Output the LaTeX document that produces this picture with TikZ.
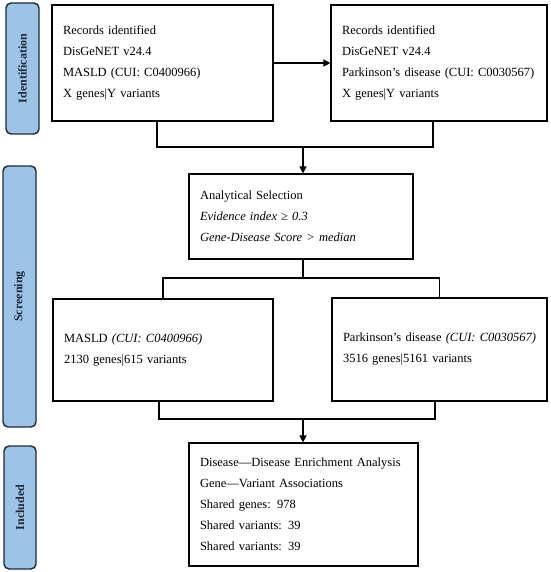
\documentclass[tikz,border=0pt]{standalone}
\usepackage{fontspec}
\setmainfont{Liberation Serif}
\usetikzlibrary{arrows.meta}
\definecolor{sidefill}{RGB}{157,195,230}
\definecolor{sidedraw}{RGB}{30,40,55}
\tikzset{
  box/.style={draw=black, line width=1.1pt, fill=white, align=left, inner sep=0pt,
    font=\fontsize{12.5}{21}\selectfont},
  side/.style={draw=sidedraw, line width=1.4pt, fill=sidefill, rounded corners=5pt, inner sep=0pt},
  sidelabel/.style={rotate=90, font=\fontsize{12}{14}\selectfont\bfseries, text=sidedraw},
  conn/.style={line width=1.1pt},
  arr/.style={line width=1.1pt, -{Triangle[width=7pt,length=7pt]}}
}
\begin{document}
\begin{tikzpicture}[x=1pt,y=-1pt]
\useasboundingbox (0,0) rectangle (550,572);
% side phase labels
\node[side, minimum width=33pt, minimum height=131pt] (sid) at (22.5,68.5) {};
\node[sidelabel] (sidt) at (sid.center) {Identification};
\node[side, minimum width=33pt, minimum height=261pt] (sscr) at (19.5,296.5) {};
\node[sidelabel] (sscrt) at (sscr.center) {Screening};
\node[side, minimum width=32pt, minimum height=123pt] (sinc) at (20,507.5) {};
\node[sidelabel] (sinct) at (sinc.center) {Included};
% boxes
\node[box, minimum width=221pt, minimum height=116pt, text width=199pt] (b1) at (162.5,63)
  {Records identified\\ DisGeNET v24.4\\ MASLD (CUI: C0400966)\\ X genes|Y variants};
\node[box, minimum width=216pt, minimum height=116pt, text width=194pt] (b2) at (439,63)
  {Records identified\\ DisGeNET v24.4\\ \makebox[0pt][l]{Parkinson’s disease (CUI: C0030567)}\\ X genes|Y variants};
\node[box, minimum width=224pt, minimum height=85pt, text width=202pt] (an) at (301,216.5)
  {Analytical Selection\\ \textit{Evidence index ≥ 0.3}\\ \textit{Gene-Disease Score > median}};
\node[box, minimum width=220pt, minimum height=102pt, text width=198pt] (ma) at (163,350)
  {MASLD \textit{(CUI: C0400966)}\\ 2130 genes|615 variants};
\node[box, minimum width=215pt, minimum height=103pt, text width=193pt] (pa) at (439.5,349.5)
  {\makebox[0pt][l]{Parkinson’s disease \textit{(CUI: C0030567)}}\\ 3516 genes|5161 variants};
\node[box, minimum width=229pt, minimum height=123pt, text width=207pt] (inc) at (303.5,504.5)
  {Disease—Disease Enrichment Analysis\\ Gene—Variant Associations\\ Shared genes: 978\\ Shared variants: 39\\ Shared variants: 39};
% connectors
\coordinate (j1) at (303,147);
\coordinate (j2) at (303,278);
\coordinate (j3) at (303,419);
\draw[arr] (b1.east) -- (b2.west);
\draw[conn] ([xshift=-5.5pt]b1.south) |- (j1) -| ([xshift=-6pt]b2.south);
\draw[arr] (j1) -- (j1 |- an.north);
\draw[conn] (j2 |- an.south) -- (j2);
\draw[conn] (ma.north) |- (j2) -| (pa.north);
\draw[conn] ([xshift=-4pt]ma.south) |- (j3) -| ([xshift=-4.5pt]pa.south);
\draw[arr] (j3) -- (j3 |- inc.north);
\end{tikzpicture}
\end{document}
